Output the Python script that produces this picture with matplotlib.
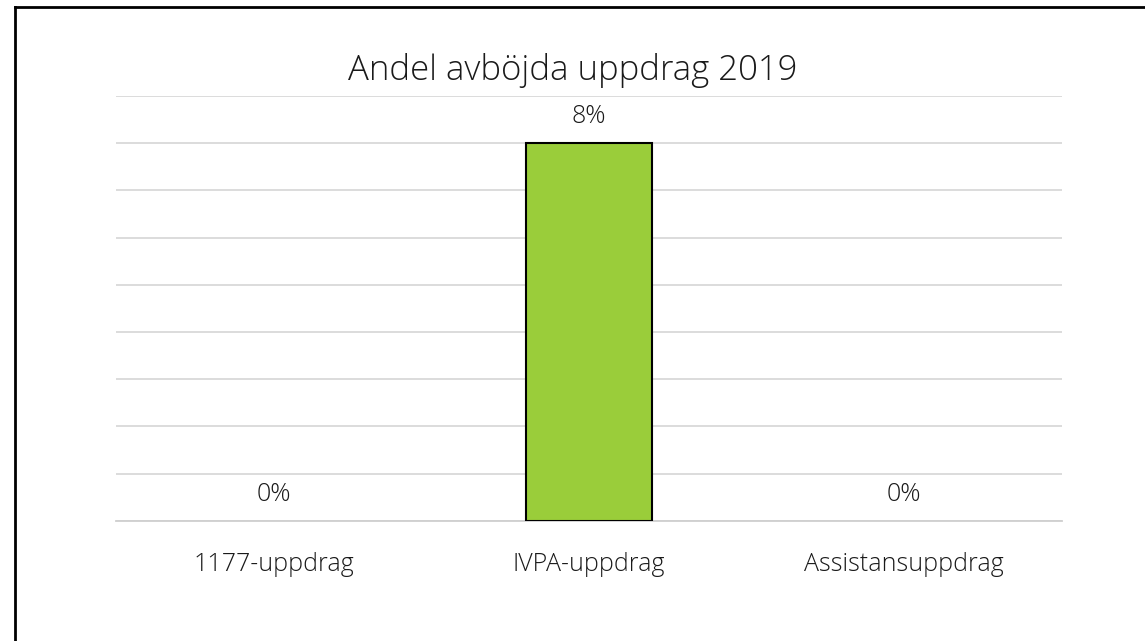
import matplotlib.pyplot as plt
import matplotlib.lines as mlines
import numpy as np

categories = ["1177-uppdrag", "IVPA-uppdrag", "Assistansuppdrag"]
values = [0.0, 0.08, 0.0]
value_labels = ["0%", "8%", "0%"]
title = "Andel avböjda uppdrag 2019"

plt.rcParams['font.family'] = ['Open Sans', 'DejaVu Sans']

fig = plt.figure(figsize=(11.45, 6.41), dpi=100)
ax = fig.add_axes([116/1145, 1 - 520.7/641, (1062-116)/1145, (520.7-96)/641])

x = np.arange(len(categories))
lws = [1.5 if v > 0 else 0 for v in values]
ax.bar(x, values, width=0.4, color="#9ACD3A", edgecolor="black", linewidth=lws, zorder=3)
ax.set_xlim(-0.5, len(categories) - 0.5)
ax.set_ylim(0, 0.09)
ax.set_yticks(np.arange(0, 0.0901, 0.01))
ax.yaxis.grid(True, color="#d9d9d9", linewidth=1.3, zorder=0)
ax.tick_params(axis='y', left=False, labelleft=False)
ax.tick_params(axis='x', bottom=False, pad=19)
ax.set_xticks(x)
ax.set_xticklabels(categories, fontsize=18, color="#1a1a1a", fontweight='light')
for s in ['top', 'right', 'left']:
    ax.spines[s].set_visible(False)
ax.spines['bottom'].set_color("#cfcfcf")
ax.spines['bottom'].set_linewidth(1.3)

for xi, v, lab in zip(x, values, value_labels):
    ax.annotate(lab, (xi, v), xytext=(0, 10), textcoords='offset points',
                ha='center', va='bottom', fontsize=18, color="#1a1a1a", fontweight='light')

fig.text(0.5, 1 - 71/641, title, ha='center', va='center', fontsize=25, color="#1a1a1a", fontweight='light')

# figure border (left and top visible)
fig.add_artist(mlines.Line2D([15/1145, 15/1145], [0, 1 - 7/641], color='black', linewidth=2, transform=fig.transFigure))
fig.add_artist(mlines.Line2D([15/1145, 1], [1 - 7/641, 1 - 7/641], color='black', linewidth=2, transform=fig.transFigure))

fig.savefig("out.png", dpi=100)
